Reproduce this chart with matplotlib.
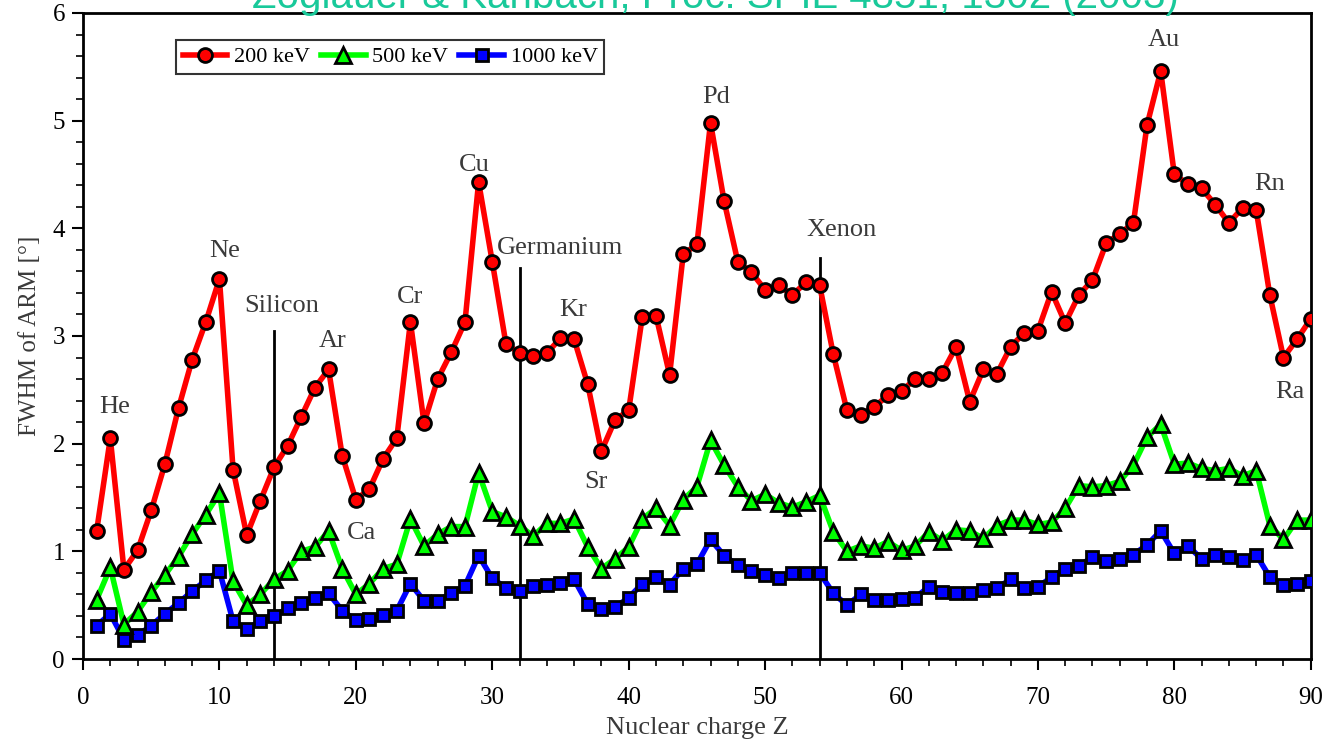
import matplotlib
matplotlib.use('Agg')
import matplotlib.pyplot as plt
import numpy as np

Z = np.arange(1, 91)

fwhm_200 = [1.19, 2.05, 0.83, 1.01, 1.38, 1.81, 2.33, 2.78, 3.13, 3.53,
            1.76, 1.15, 1.47, 1.78, 1.98, 2.25, 2.52, 2.69, 1.89, 1.48,
            1.58, 1.86, 2.05, 3.13, 2.19, 2.60, 2.85, 3.13, 4.43, 3.69,
            2.93, 2.84, 2.81, 2.84, 2.98, 2.97, 2.55, 1.93, 2.22, 2.31,
            3.18, 3.19, 2.64, 3.76, 3.85, 4.98, 4.25, 3.69, 3.59, 3.43,
            3.47, 3.38, 3.50, 3.47, 2.83, 2.31, 2.27, 2.34, 2.45, 2.49,
            2.60, 2.60, 2.66, 2.90, 2.39, 2.69, 2.65, 2.90, 3.03, 3.05,
            3.41, 3.12, 3.38, 3.52, 3.86, 3.95, 4.05, 4.96, 5.46, 4.50,
            4.41, 4.37, 4.22, 4.05, 4.19, 4.17, 3.38, 2.80, 2.97, 3.16]

fwhm_500 = [0.55, 0.85, 0.32, 0.44, 0.62, 0.78, 0.95, 1.16, 1.34, 1.54,
            0.72, 0.50, 0.60, 0.74, 0.82, 1.00, 1.04, 1.19, 0.84, 0.60,
            0.70, 0.84, 0.88, 1.30, 1.05, 1.16, 1.23, 1.23, 1.73, 1.37,
            1.32, 1.24, 1.14, 1.26, 1.26, 1.30, 1.04, 0.84, 0.93, 1.04,
            1.30, 1.40, 1.24, 1.48, 1.60, 2.03, 1.80, 1.60, 1.47, 1.53,
            1.45, 1.41, 1.46, 1.52, 1.18, 1.00, 1.05, 1.03, 1.09, 1.01,
            1.05, 1.18, 1.10, 1.20, 1.19, 1.12, 1.24, 1.29, 1.29, 1.25,
            1.27, 1.40, 1.61, 1.60, 1.61, 1.65, 1.80, 2.06, 2.18, 1.81,
            1.82, 1.77, 1.75, 1.77, 1.70, 1.75, 1.24, 1.11, 1.29, 1.29]

fwhm_1000 = [0.31, 0.42, 0.18, 0.22, 0.31, 0.42, 0.52, 0.63, 0.73, 0.82,
             0.35, 0.28, 0.35, 0.40, 0.47, 0.52, 0.57, 0.61, 0.45, 0.36,
             0.37, 0.41, 0.45, 0.70, 0.54, 0.54, 0.61, 0.68, 0.96, 0.75,
             0.66, 0.63, 0.68, 0.69, 0.71, 0.74, 0.51, 0.46, 0.48, 0.57,
             0.70, 0.76, 0.69, 0.84, 0.88, 1.11, 0.96, 0.87, 0.82, 0.78,
             0.75, 0.80, 0.80, 0.80, 0.61, 0.50, 0.60, 0.55, 0.55, 0.56,
             0.57, 0.67, 0.62, 0.61, 0.61, 0.64, 0.66, 0.74, 0.66, 0.67,
             0.76, 0.84, 0.86, 0.95, 0.91, 0.93, 0.97, 1.06, 1.19, 0.98,
             1.05, 0.93, 0.97, 0.95, 0.92, 0.97, 0.76, 0.69, 0.70, 0.72]

# detector materials: (Z, top of marker line)
det_names = ['Silicon', 'Germanium', 'Xenon']
det_z = [14, 32, 54]
det_top = [3.05, 3.63, 3.72]

# element labels
elem_names = ['He', 'Ne', 'Silicon', 'Ar', 'Ca', 'Cr', 'Cu', 'Germanium',
              'Kr', 'Sr', 'Pd', 'Xenon', 'Au', 'Rn', 'Ra']
elem_x = [2.35, 10.4, 14.6, 18.3, 20.4, 24.0, 28.7, 35.0,
          35.9, 37.6, 46.4, 55.6, 79.2, 87.0, 88.5]
elem_y = [2.34, 3.79, 3.28, 2.95, 1.17, 3.36, 4.59, 3.82,
          3.24, 1.64, 5.22, 3.98, 5.75, 4.41, 2.48]

serif = 'Liberation Serif'
plt.rcParams['font.family'] = serif

fig = plt.figure(figsize=(13.24, 7.46), dpi=100)
ax = fig.add_axes([0.0627, 0.1166, 0.9273, 0.866])

ax.plot(Z, fwhm_200, color='#ff0000', lw=4, marker='o', ms=10,
        mfc='#ff0000', mec='black', mew=2, label='200 keV', zorder=5)
ax.plot(Z, fwhm_500, color='#00ff00', lw=4, marker='^', ms=11,
        mfc='#00ff00', mec='black', mew=2, label='500 keV', zorder=4)
ax.plot(Z, fwhm_1000, color='#0000ff', lw=4, marker='s', ms=8,
        mfc='#0000ff', mec='black', mew=2, label='1000 keV', zorder=3)

for z, top in zip(det_z, det_top):
    ax.plot([z, z], [0, top], color='black', lw=2, zorder=2)

for name, x, y in zip(elem_names, elem_x, elem_y):
    ax.text(x, y, name, ha='center', va='center', fontsize=19, color='#3a3a3a')

ax.set_xlim(0, 90)
ax.set_ylim(0, 6)
ax.set_xticks(np.arange(0, 91, 10))
ax.set_xticks(np.arange(0, 91, 2), minor=True)
ax.set_yticks(np.arange(0, 7, 1))
ax.set_yticks(np.arange(0, 6.01, 0.2), minor=True)
ax.tick_params(which='major', direction='out', length=8, width=1.5,
               labelsize=18)
ax.tick_params(axis='x', which='major', pad=12)
ax.tick_params(axis='y', which='major', pad=5)
ax.tick_params(which='minor', direction='out', length=5, width=1.2)
for sp in ax.spines.values():
    sp.set_linewidth(2)

ax.set_xlabel('Nuclear charge Z', fontsize=19, color='#3a3a3a', labelpad=6)
ax.set_ylabel('FWHM of ARM [°]', fontsize=18, color='#3a3a3a', labelpad=8)

leg = ax.legend(loc='upper left', bbox_to_anchor=(0.067, 0.975), ncol=3,
                fontsize=16, frameon=True, fancybox=False, edgecolor='black',
                handlelength=2.0, handletextpad=0.3, columnspacing=0.5,
                borderpad=0.3)
leg.get_frame().set_linewidth(1.5)

fig.text(0.54, 1 - 8 / 746, 'Zoglauer & Kanbach, Proc. SPIE 4851, 1302 (2003)',
         ha='center', va='baseline', fontsize=29, color='#19c99a',
         family='Liberation Sans')

fig.savefig('out.png', dpi=100)
